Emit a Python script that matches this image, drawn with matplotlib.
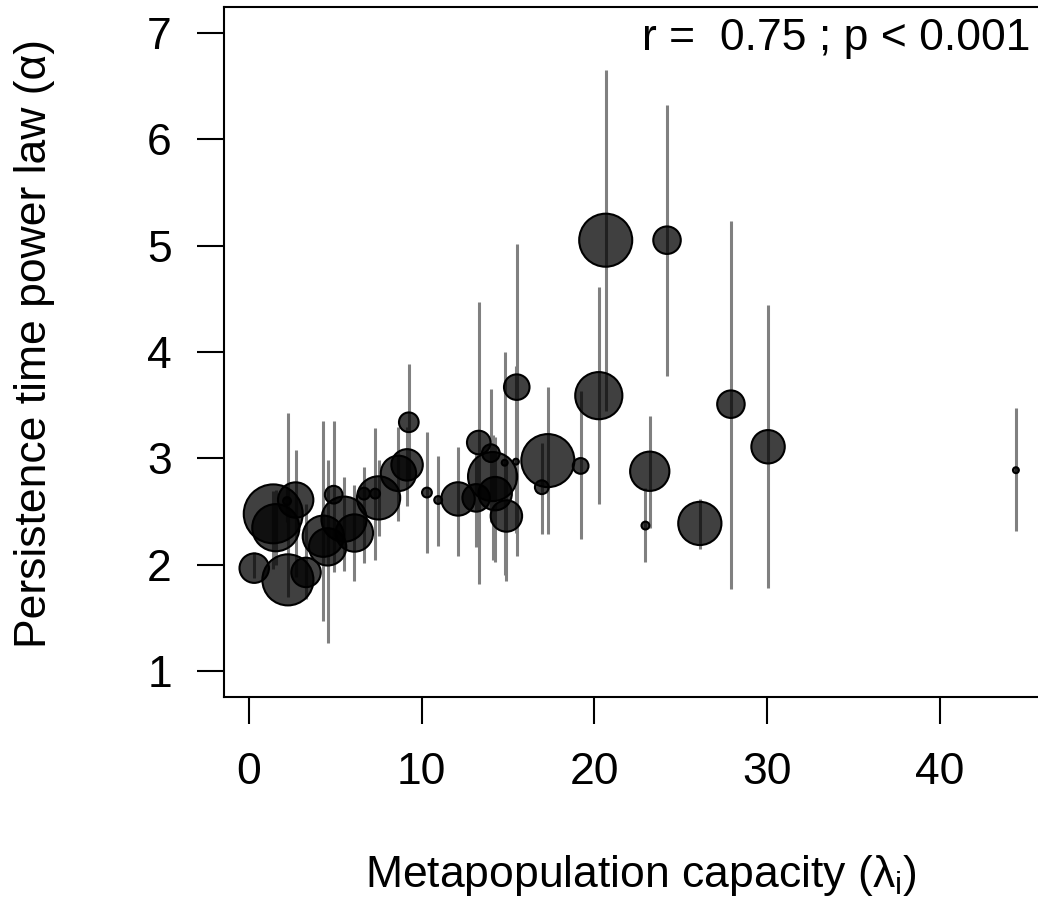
"""Persistence time power law vs metapopulation capacity (bubble plot with CI bars)."""

import numpy as np
import matplotlib
matplotlib.use("Agg")
import matplotlib.pyplot as plt

plt.rcParams["font.family"] = ["Liberation Sans", "DejaVu Sans"]
plt.rcParams["mathtext.fontset"] = "custom"
plt.rcParams["mathtext.rm"] = "Liberation Sans"
plt.rcParams["mathtext.it"] = "Liberation Sans:italic"

# ── Data ─────────────────────────────────────────────────────────────────
capacity = [0.3, 1.4, 1.55, 2.25, 2.7, 3.3, 2.2, 4.3, 4.55, 4.9,
            5.5, 6.1, 6.65, 7.3, 7.5, 8.65, 9.15, 9.25, 10.3, 10.95,
            12.1, 13.15, 13.3, 14.0, 14.1, 14.25, 14.8, 14.9, 15.45, 15.5,
            16.95, 17.3, 19.2, 20.25, 20.65, 22.95, 23.2, 24.2, 26.1, 27.9,
            30.05, 44.4]
alpha_hat = [1.97, 2.48, 2.35, 1.86, 2.61, 1.93, 2.60, 2.27, 2.17, 2.66,
             2.43, 2.30, 2.67, 2.67, 2.63, 2.86, 2.94, 3.34, 2.68, 2.61,
             2.62, 2.63, 3.15, 3.05, 2.83, 2.67, 2.96, 2.46, 2.97, 3.67,
             2.73, 2.98, 2.93, 3.59, 5.05, 2.37, 2.88, 5.05, 2.39, 3.51,
             3.11, 2.89]
ci_low = [1.88, 1.96, 2.00, 1.70, 1.89, 1.68, 2.40, 1.47, 1.27, 1.93,
          1.94, 1.85, 2.02, 2.05, 2.27, 2.41, 2.55, 2.80, 2.11, 2.18,
          2.08, 2.17, 1.82, 2.40, 2.05, 2.03, 1.91, 1.85, 2.30, 2.08,
          2.29, 2.29, 2.24, 2.57, 3.45, 2.03, 2.35, 3.77, 2.15, 1.77,
          1.78, 2.32]
ci_high = [2.12, 2.69, 2.70, 3.43, 3.08, 2.57, 2.75, 3.35, 2.99, 3.35,
           2.83, 2.75, 2.92, 3.29, 2.99, 3.30, 3.30, 3.89, 3.25, 3.02,
           3.11, 3.05, 4.47, 3.65, 3.22, 3.20, 4.00, 2.97, 3.87, 5.01,
           3.15, 3.67, 3.63, 4.61, 6.65, 2.72, 3.40, 6.32, 2.62, 5.23,
           4.44, 3.47]
# relative weight of each population (drives bubble size)
weight = [15, 30, 24, 26, 18, 15, 4, 21, 19, 9,
          23, 19, 6, 5, 22, 18, 16, 10, 5, 4,
          17, 14, 12, 9, 25, 17, 3, 16, 3, 13,
          7, 27, 8, 24, 27, 4, 20, 14, 22, 14,
          17, 3]

stat_text = "r =  0.75 ; p < 0.001"
x_ticks = [0, 10, 20, 30, 40]
y_ticks = [1, 2, 3, 4, 5, 6, 7]

FONT = 32
W, H = 1038, 900


def main():
    fig = plt.figure(figsize=(W / 100, H / 100), dpi=100)
    # plot box runs slightly past the right edge of the image, as in the original
    ax = fig.add_axes([224 / W, 1 - 697 / H, (1047 - 224) / W, (697 - 7) / H])

    x = np.array(capacity)
    y = np.array(alpha_hat)
    w = np.array(weight, dtype=float)

    ax.vlines(x, ci_low, ci_high, color="#808080", linewidth=2.2, zorder=1)
    ax.scatter(x, y, s=2.0 * w ** 2, facecolors=(0, 0, 0, 0.75),
               edgecolors="black", linewidths=1.5, zorder=2)

    ax.set_xlim(-1.45, 46.2)
    ax.set_ylim(0.76, 7.24)
    ax.set_xticks(x_ticks)
    ax.set_yticks(y_ticks)

    for s in ax.spines.values():
        s.set_linewidth(1.5)
    ax.tick_params(axis="both", length=19.5, width=1.5, labelsize=FONT)
    ax.tick_params(axis="x", pad=20)
    ax.tick_params(axis="y", pad=18)

    fig.text(1030 / W, 1 - 50 / H, stat_text, ha="right", va="baseline",
             fontsize=FONT)
    fig.text(365 / W, 1 - 887 / H, "Metapopulation capacity (λ$_\\mathrm{i}$)",
             ha="left", va="baseline", fontsize=FONT)
    fig.text(35 / W, 1 - 343 / H, "Persistence time power law (α)",
             ha="center", va="center", rotation=90, fontsize=FONT)

    fig.savefig("out.png", dpi=100)
    plt.close(fig)


if __name__ == "__main__":
    main()
